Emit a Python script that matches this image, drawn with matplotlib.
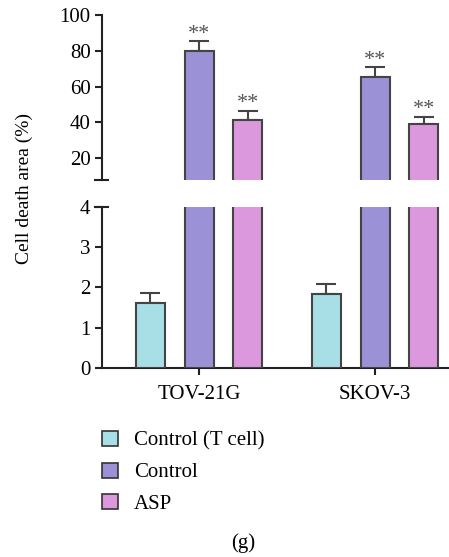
import matplotlib.pyplot as plt
import numpy as np
from matplotlib.patches import Patch

plt.rcParams['font.family'] = ['Liberation Serif', 'DejaVu Serif']

# data
grupos = ["TOV-21G", "SKOV-3"]
series = ["Control (T cell)", "Control", "ASP"]
valores = {
    "Control (T cell)": [1.62, 1.84],
    "Control": [80.0, 65.5],
    "ASP": [41.0, 39.2],
}
erros = {
    "Control (T cell)": [0.24, 0.25],
    "Control": [5.5, 5.2],
    "ASP": [5.5, 3.9],
}
estrelas = {
    "Control (T cell)": ["", ""],
    "Control": ["**", "**"],
    "ASP": ["**", "**"],
}
cores = ["#A8DEE6", "#9B91D6", "#DC98DD"]
ticks_cima = [20, 40, 60, 80, 100]
ticks_baixo = [0, 1, 2, 3, 4]

W, H = 449, 557
fig = plt.figure(figsize=(W / 100, H / 100), dpi=100)

esq = 101.7 / W
ax_top = fig.add_axes([esq, 1 - 180 / H, 1 - esq, (180 - 15) / H])
ax_bot = fig.add_axes([esq, 1 - 368.3 / H, 1 - esq, (368.3 - 206.7) / H])

x = np.arange(len(grupos))
passo = 0.276
largura = 0.165
borda = "#444444"

for ax in (ax_top, ax_bot):
    for i, s in enumerate(series):
        pos = x + (i - 1) * passo
        ax.bar(pos, valores[s], width=largura, color=cores[i],
               edgecolor=borda, linewidth=1.5, zorder=3)
        ax.errorbar(pos, valores[s], yerr=[np.zeros(len(x)), erros[s]],
                    fmt="none", ecolor=borda, elinewidth=1.5,
                    capsize=7, capthick=1.5, zorder=2)
    ax.set_xlim(-0.553, 1.42)
    for side in ("top", "right"):
        ax.spines[side].set_visible(False)
    ax.spines["left"].set_linewidth(1.5)
    ax.spines["left"].set_color("#222222")
    ax.tick_params(axis="y", labelsize=15, width=1.5, length=5,
                   color="#222222", pad=3)

# estrelas
for i, s in enumerate(series):
    pos = x + (i - 1) * passo
    for j in range(len(x)):
        if estrelas[s][j]:
            ax_top.annotate(estrelas[s][j], (pos[j], valores[s][j] + erros[s][j]),
                            xytext=(0, -2), textcoords="offset points",
                            ha="center", va="bottom", fontsize=16,
                            color="#555555")

ax_top.set_ylim(7.7, 100)
ax_top.set_yticks(ticks_cima)
ax_top.spines["bottom"].set_visible(False)
ax_top.set_xticks([])

ax_bot.set_ylim(0, 4)
ax_bot.set_yticks(ticks_baixo)
ax_bot.set_xticks(x)
ax_bot.set_xticklabels(grupos, fontsize=15)
ax_bot.spines["bottom"].set_linewidth(1.5)
ax_bot.spines["bottom"].set_color("#222222")
ax_bot.tick_params(axis="x", width=1.5, length=5, color="#222222", pad=7)

# marcas de quebra
d = 6.5 / (W - 101.7)
ax_top.plot([-d, d], [0, 0], transform=ax_top.transAxes, color="#222222",
            lw=1.5, clip_on=False)
ax_bot.plot([-d, d], [1, 1], transform=ax_bot.transAxes, color="#222222",
            lw=1.5, clip_on=False)

fig.text(24 / W, 1 - 189 / H, "Cell death area (%)", rotation=90,
         ha="center", va="center", fontsize=14)

handles = [Patch(facecolor=c, edgecolor="#333333", linewidth=1.2) for c in cores]
fig.legend(handles, series, loc="upper left",
           bbox_to_anchor=(102 / W, 1 - 431 / H), frameon=False, fontsize=15,
           handlelength=0.75, handleheight=0.75, handletextpad=0.8,
           labelspacing=0.56, borderpad=0, borderaxespad=0)

fig.text(243 / W, 1 - 543 / H, "(g)", ha="center", va="center", fontsize=15)

fig.savefig("out.png", dpi=100)
